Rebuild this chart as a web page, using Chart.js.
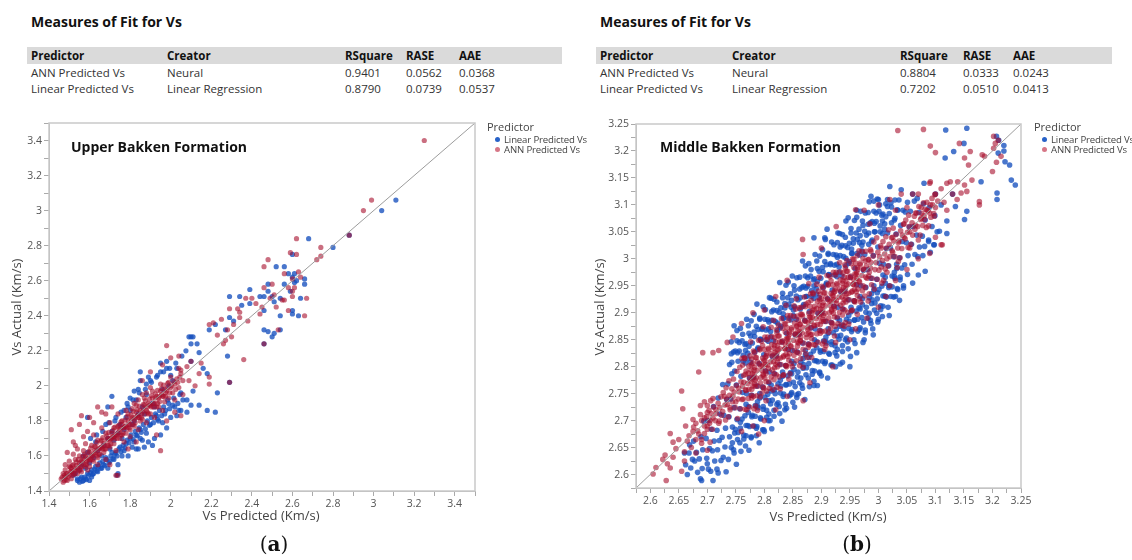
<!DOCTYPE html>
<html lang="en">
<head>
  <meta charset="UTF-8">
  <title>Measures of Fit for Vs</title>
  <script src="https://cdn.jsdelivr.net/npm/chart.js"></script>
  <style>
    html, body { margin: 0; padding: 0; background: #fff; overflow: hidden; }
    #page { position: relative; width: 1132px; height: 560px; font-family: "Open Sans", "Noto Sans", sans-serif; color: #333; }
    #page div, #page canvas { position: absolute; }
    .fit-title { font-weight: bold; font-size: 14px; color: #111; white-space: nowrap; }
    .band { background: #dadada; }
    .cell { font-size: 11.5px; line-height: 16px; white-space: nowrap; color: #333; }
    .cell.head { font-weight: bold; color: #111; }
    .plot-title { font-weight: bold; font-size: 14px; color: #111; white-space: nowrap; line-height: 20px; }
    .axis-title { font-size: 13px; color: #444; white-space: nowrap; text-align: center; line-height: 18px; }
    .legend { font-size: 9.6px; color: #444; white-space: nowrap; line-height: 12px; letter-spacing: -0.15px; }
    .dot { width: 5px; height: 5px; border-radius: 50%; }
    .panel-label { font-family: "DejaVu Serif", "Liberation Serif", serif; font-size: 20px; color: #111; width: 60px; text-align: center; line-height: 24px; }
  </style>
</head>
<body>
<div id="page">
  <canvas id="upper" width="500" height="430" style="left:0;top:110px"></canvas>
  <canvas id="middle" width="480" height="430" style="left:570px;top:110px"></canvas>
</div>

<script>
  // ---- fit tables ----
  const fitHeader = ['Predictor', 'Creator', 'RSquare', 'RASE', 'AAE'];
  const upperFit = [
    ['ANN Predicted Vs', 'Neural', '0.9401', '0.0562', '0.0368'],
    ['Linear Predicted Vs', 'Linear Regression', '0.8790', '0.0739', '0.0537']
  ];
  const middleFit = [
    ['ANN Predicted Vs', 'Neural', '0.8804', '0.0333', '0.0243'],
    ['Linear Predicted Vs', 'Linear Regression', '0.7202', '0.0510', '0.0413']
  ];
  const seriesNames = ['Linear Predicted Vs', 'ANN Predicted Vs'];

  // ---- Upper Bakken: [Vs Predicted, Vs Actual] ----
  const upperAnn = [
    [1.46,1.47],[1.47,1.45],[1.47,1.50],[1.48,1.48],[1.48,1.52],[1.49,1.46],[1.49,1.50],[1.50,1.54],[1.48,1.55],
    [1.50,1.49],[1.51,1.51],[1.51,1.47],[1.52,1.55],[1.52,1.50],[1.53,1.58],[1.50,1.57],[1.53,1.52],[1.52,1.61],[1.51,1.53],
    [1.54,1.53],[1.54,1.50],[1.55,1.56],[1.55,1.60],[1.56,1.54],[1.56,1.51],[1.57,1.58],[1.57,1.63],[1.54,1.64],[1.56,1.57],
    [1.58,1.55],[1.58,1.60],[1.59,1.58],[1.59,1.52],[1.60,1.62],[1.60,1.57],[1.61,1.66],[1.61,1.60],[1.58,1.67],[1.60,1.54],
    [1.62,1.61],[1.62,1.57],[1.63,1.65],[1.63,1.62],[1.64,1.59],[1.64,1.69],[1.65,1.64],[1.65,1.61],[1.62,1.72],[1.64,1.55],
    [1.66,1.65],[1.66,1.69],[1.67,1.62],[1.67,1.67],[1.68,1.73],[1.68,1.64],[1.69,1.70],[1.69,1.66],[1.66,1.76],[1.68,1.58],
    [1.70,1.69],[1.70,1.65],[1.71,1.73],[1.71,1.70],[1.72,1.76],[1.72,1.67],[1.73,1.72],[1.73,1.63],[1.70,1.79],[1.72,1.71],
    [1.74,1.73],[1.74,1.77],[1.75,1.70],[1.75,1.75],[1.76,1.80],[1.76,1.72],[1.77,1.76],[1.77,1.68],[1.74,1.84],[1.76,1.78],
    [1.78,1.77],[1.78,1.73],[1.79,1.80],[1.79,1.84],[1.80,1.78],[1.80,1.71],[1.81,1.82],[1.81,1.87],[1.78,1.86],[1.80,1.75],
    [1.82,1.81],[1.82,1.77],[1.83,1.85],[1.83,1.89],[1.84,1.82],[1.84,1.75],[1.85,1.86],[1.85,1.80],[1.82,1.90],[1.84,1.92],
    [1.86,1.85],[1.86,1.81],[1.87,1.89],[1.87,1.93],[1.88,1.86],[1.88,1.79],[1.89,1.90],[1.89,1.84],[1.86,1.95],[1.88,1.96],
    [1.90,1.89],[1.90,1.84],[1.91,1.93],[1.91,1.97],[1.92,1.90],[1.92,1.82],[1.93,1.94],[1.93,1.88],[1.90,1.99],
    [1.94,1.93],[1.94,1.88],[1.95,1.97],[1.95,2.01],[1.96,1.94],[1.96,1.86],[1.97,1.98],[1.97,1.91],
    [1.98,1.97],[1.99,2.02],[1.99,1.93],[2.00,1.99],[2.00,2.05],[2.01,1.96],[2.02,2.01],[2.02,1.92],
    [2.03,2.04],[2.04,1.99],[2.05,2.07],[2.06,2.03],[2.04,2.10],[2.06,1.95],
    [1.465,1.48],[1.475,1.46],[1.485,1.50],[1.495,1.48],[1.485,1.465],[1.475,1.49],
    [1.505,1.51],[1.515,1.49],[1.505,1.535],[1.525,1.52],[1.515,1.545],[1.525,1.495],
    [1.535,1.545],[1.545,1.515],[1.535,1.565],[1.555,1.54],[1.545,1.58],[1.555,1.52],
    [1.565,1.565],[1.575,1.54],[1.565,1.595],[1.585,1.57],[1.575,1.61],[1.585,1.55],
    [1.595,1.59],[1.605,1.58],[1.595,1.625],[1.615,1.60],[1.605,1.645],[1.615,1.58],
    [1.625,1.63],[1.635,1.60],[1.625,1.655],[1.645,1.64],[1.635,1.675],[1.645,1.61],
    [1.655,1.65],[1.665,1.64],[1.655,1.685],[1.675,1.66],[1.665,1.705],[1.675,1.64],
    [1.685,1.69],[1.695,1.66],[1.685,1.715],[1.705,1.70],[1.695,1.735],[1.705,1.67],
    [1.715,1.71],[1.725,1.70],[1.715,1.745],[1.735,1.72],[1.725,1.765],[1.735,1.70],
    [1.745,1.75],[1.755,1.72],[1.745,1.775],[1.765,1.76],[1.755,1.795],[1.765,1.73],
    [1.775,1.77],[1.785,1.76],[1.775,1.805],[1.795,1.78],[1.785,1.825],[1.795,1.76],
    [1.805,1.81],[1.815,1.78],[1.805,1.835],[1.825,1.82],[1.815,1.855],[1.825,1.79],
    [1.835,1.83],[1.845,1.82],[1.835,1.865],[1.855,1.84],[1.845,1.885],[1.855,1.82],
    [1.865,1.87],[1.875,1.84],[1.865,1.895],[1.885,1.88],[1.875,1.915],[1.885,1.85],
    [1.895,1.89],[1.905,1.88],[1.895,1.925],[1.915,1.90],[1.905,1.945],[1.915,1.88],
    [1.925,1.93],[1.935,1.90],[1.925,1.955],[1.945,1.94],[1.935,1.975],[1.945,1.91],
    [1.955,1.95],[1.965,1.94],[1.955,1.985],[1.975,1.96],[1.965,2.005],[1.975,1.94],
    [1.985,1.99],[1.995,1.96],[1.985,2.015],[2.005,2.00],[2.015,2.025],[2.025,1.98],[2.035,2.02],[2.045,2.05],
    [1.51,1.75],[1.56,1.83],[1.55,1.78],[1.59,1.74],[1.52,1.68],[1.62,1.79],[1.64,1.88],[1.66,1.85],[1.49,1.62],[1.53,1.66],
    [1.57,1.71],[1.60,1.82],[1.68,1.84],[1.71,1.88],[1.73,1.49],[1.74,1.49],[1.70,1.55],[1.79,1.64],[1.83,1.68],[1.95,1.63],
    [1.93,1.72],[1.98,1.80],[2.02,1.85],[2.05,1.83],[1.86,2.03],[1.90,2.08],[1.96,2.12],[2.00,2.16],[1.98,2.23],[2.04,2.17],
    [2.08,2.11],[2.10,2.14],[2.14,2.07],[2.12,2.00],[2.15,2.13],[2.19,2.01],[2.19,2.05],[2.29,2.02],[2.09,2.03],[2.05,2.09],
    [2.19,2.35],[2.21,2.36],[2.25,2.38],[2.29,2.44],[2.33,2.44],[2.34,2.42],[2.34,2.39],[2.28,2.32],[2.27,2.26],[2.30,2.28],
    [2.26,2.24],[2.36,2.15],[2.40,2.50],[2.37,2.50],[2.38,2.37],[2.48,2.72],[2.46,2.68],[2.46,2.56],[2.50,2.58],[2.51,2.52],
    [2.56,2.64],[2.60,2.61],[2.60,2.54],[2.61,2.56],[2.55,2.49],[2.52,2.45],[2.45,2.45],[2.58,2.43],[2.44,2.41],[2.53,2.32],
    [2.46,2.24],[2.56,2.49],[2.67,2.50],[2.66,2.40],[2.62,2.84],[2.59,2.76],[2.62,2.75],[2.60,2.51],[2.74,2.79],[2.72,2.72],
    [2.74,2.74],[2.88,2.86],[2.95,3.00],[2.99,3.06],[3.25,3.40],[2.23,2.29],[2.31,2.35],[2.42,2.47],[2.49,2.50],[2.64,2.62],
    [2.63,2.65],[2.58,2.56]
  ];
  const upperLinear = [
    [1.53,1.50],[1.54,1.47],[1.55,1.45],[1.56,1.48],[1.55,1.52],[1.52,1.49],[1.56,1.55],[1.54,1.46],[1.57,1.46],
    [1.58,1.47],[1.60,1.46],[1.61,1.48],[1.59,1.50],[1.58,1.53],[1.60,1.56],[1.61,1.52],[1.57,1.60],[1.59,1.62],[1.59,1.82],
    [1.62,1.50],[1.63,1.54],[1.64,1.51],[1.65,1.56],[1.62,1.59],[1.66,1.53],[1.64,1.63],[1.63,1.68],[1.66,1.60],
    [1.67,1.55],[1.68,1.59],[1.69,1.53],[1.70,1.57],[1.71,1.62],[1.67,1.66],[1.69,1.70],[1.70,1.64],[1.71,1.74],[1.68,1.78],[1.69,1.88],[1.71,1.94],
    [1.72,1.58],[1.73,1.62],[1.74,1.55],[1.75,1.65],[1.76,1.60],[1.72,1.69],[1.74,1.73],[1.75,1.78],[1.76,1.70],[1.73,1.82],[1.74,1.50],[1.735,1.49],
    [1.77,1.63],[1.78,1.67],[1.79,1.60],[1.80,1.70],[1.81,1.65],[1.77,1.75],[1.78,1.82],[1.79,1.88],[1.80,1.93],[1.81,1.78],[1.77,1.86],[1.80,1.86],
    [1.82,1.68],[1.83,1.72],[1.84,1.64],[1.85,1.75],[1.86,1.69],[1.82,1.80],[1.83,1.92],[1.84,1.98],[1.85,2.03],[1.86,1.88],[1.84,1.84],[1.82,1.97],[1.85,2.08],[1.85,1.70],
    [1.87,1.65],[1.88,1.73],[1.89,1.68],[1.90,1.78],[1.91,1.66],[1.87,1.84],[1.88,1.95],[1.89,2.05],[1.90,2.03],[1.91,1.90],[1.88,2.01],[1.83,1.64],
    [1.92,1.70],[1.93,1.83],[1.94,1.80],[1.95,1.72],[1.96,1.79],[1.92,1.88],[1.93,2.05],[1.95,2.13],[1.95,2.08],[1.96,1.98],[1.98,2.14],
    [1.97,1.84],[1.98,1.76],[1.99,1.90],[2.00,1.82],[2.01,1.89],[2.03,2.10],[1.98,2.10],[2.00,2.06],[2.01,2.03],[1.99,2.00],
    [2.02,1.88],[2.03,1.83],[2.04,1.86],[2.05,1.86],[2.06,1.92],[2.05,1.96],[2.08,1.85],
    [1.555,1.47],[1.565,1.455],[1.575,1.48],[1.585,1.465],[1.595,1.49],[1.605,1.505],[1.615,1.495],[1.625,1.525],[1.635,1.515],
    [1.645,1.54],[1.655,1.53],[1.665,1.57],[1.675,1.545],[1.685,1.58],[1.695,1.56],[1.705,1.60],[1.715,1.585],[1.725,1.61],
    [1.735,1.60],[1.745,1.64],[1.755,1.625],[1.765,1.66],[1.775,1.645],[1.785,1.69],[1.795,1.675],[1.805,1.72],[1.815,1.695],
    [1.825,1.74],[1.835,1.715],[1.845,1.76],[1.855,1.735],[1.865,1.78],[1.875,1.755],[1.885,1.80],[1.895,1.775],[1.905,1.82],
    [1.915,1.79],[1.925,1.84],[1.935,1.81],[1.945,1.86],[1.955,1.83],[1.965,1.88],[1.975,1.86],[1.985,1.92],[1.995,1.87],
    [2.015,1.93],[2.035,1.90],[2.045,1.95],
    [1.605,1.70],[1.635,1.72],[1.665,1.74],[1.695,1.79],[1.725,1.80],[1.755,1.85],[1.785,1.90],[1.815,1.92],[1.845,1.96],
    [1.875,1.98],[1.905,2.02],[1.935,2.06],[1.965,2.08],[1.995,2.10],[2.025,2.13],[2.055,2.17],[2.075,2.20],
    [2.08,1.92],[2.11,1.97],[2.10,1.89],[2.14,1.89],[2.18,1.86],[2.22,1.85],[2.23,1.96],[2.18,2.07],[2.16,2.10],[2.10,2.14],
    [2.09,2.28],[2.10,2.28],[2.13,2.24],[2.14,2.19],[2.11,2.28],[2.10,2.24],[2.29,2.02],[2.28,2.17],[2.19,2.32],[2.22,2.35],
    [2.29,2.39],[2.27,2.32],[2.31,2.37],[2.29,2.51],[2.34,2.51],[2.35,2.46],[2.39,2.55],[2.39,2.47],
    [2.44,2.51],[2.46,2.51],[2.48,2.58],[2.52,2.68],[2.56,2.68],[2.56,2.58],[2.48,2.54],[2.50,2.51],[2.54,2.50],[2.60,2.62],
    [2.61,2.64],[2.66,2.61],[2.66,2.58],[2.63,2.40],[2.60,2.43],[2.60,2.41],[2.46,2.32],[2.48,2.31],[2.50,2.28],[2.51,2.30],
    [2.54,2.32],[2.54,2.40],[2.51,2.48],[2.46,2.43],[2.59,2.54],[2.61,2.59],[2.46,2.24],[2.64,2.50],[2.68,2.84],[2.60,2.75],
    [2.80,2.79],[2.88,2.86],[3.04,3.00],[3.11,3.06],[2.58,2.64],[2.62,2.60]
  ];

  // ---- Middle Bakken: [Vs Predicted, Vs Actual] ----
  const middleAnn = [
    [2.605,2.601],[2.628,2.589],[2.622,2.628],[2.635,2.612],[2.655,2.606],[2.630,2.620],[2.640,2.632],[2.626,2.636],[2.645,2.648],
    [2.660,2.642],[2.665,2.662],[2.672,2.650],[2.655,2.755],[2.685,2.790],[2.692,2.826],[2.710,2.826],[2.668,2.672],[2.680,2.665],
    [2.676,2.688],[2.690,2.700],[2.683,2.681],[2.695,2.676],[2.700,2.690],[2.688,2.711],[2.675,2.702],[2.650,2.665],[2.662,2.690],
    [2.690,2.658],[2.700,2.645],[2.640,2.660],[2.610,2.613],[2.700,2.728],[2.710,2.741],[2.695,2.735],[2.660,2.625],[2.680,2.640],
    [2.705,2.660],[2.657,2.722],[2.688,2.728],[2.635,2.676],
    [2.685,2.675],[2.695,2.690],[2.705,2.700],[2.715,2.720],[2.725,2.710],[2.735,2.730],[2.745,2.745],[2.755,2.760],[2.690,2.665],
    [2.700,2.715],[2.720,2.695],[2.740,2.720],[2.750,2.735],[2.730,2.745],[2.710,2.705],[2.675,2.680],[2.680,2.695],[2.695,2.705],
    [2.700,2.684],[2.704,2.695],[2.699,2.707],[2.703,2.719],
    [2.709,2.684],[2.714,2.700],[2.707,2.713],[2.711,2.725],[2.706,2.737],
    [2.721,2.699],[2.716,2.713],[2.722,2.724],[2.719,2.732],[2.724,2.744],
    [2.732,2.701],[2.727,2.717],[2.731,2.729],[2.734,2.740],[2.728,2.752],[2.733,2.761],
    [2.737,2.707],[2.740,2.724],[2.744,2.735],[2.739,2.747],[2.743,2.759],[2.738,2.774],
    [2.753,2.704],[2.749,2.724],[2.754,2.740],[2.747,2.753],[2.751,2.765],[2.746,2.777],[2.752,2.791],
    [2.758,2.722],[2.761,2.739],[2.756,2.753],[2.762,2.764],[2.759,2.772],[2.764,2.784],[2.757,2.799],[2.761,2.815],
    [2.769,2.720],[2.772,2.741],[2.767,2.757],[2.771,2.769],[2.774,2.780],[2.768,2.792],[2.773,2.801],[2.766,2.815],
    [2.782,2.722],[2.777,2.747],[2.780,2.764],[2.784,2.775],[2.779,2.787],[2.783,2.799],[2.778,2.814],[2.781,2.829],[2.776,2.846],
    [2.788,2.719],[2.793,2.744],[2.789,2.764],[2.794,2.780],[2.787,2.793],[2.791,2.805],[2.786,2.817],[2.792,2.831],[2.790,2.849],
    [2.803,2.737],[2.798,2.762],[2.801,2.779],[2.796,2.793],[2.802,2.804],[2.799,2.812],[2.804,2.824],[2.797,2.839],[2.801,2.855],[2.798,2.874],
    [2.809,2.760],[2.812,2.781],[2.807,2.797],[2.811,2.809],[2.814,2.820],[2.808,2.832],[2.813,2.841],[2.806,2.855],[2.812,2.873],
    [2.822,2.762],[2.817,2.787],[2.820,2.804],[2.824,2.815],[2.819,2.827],[2.823,2.839],[2.818,2.854],[2.821,2.869],[2.816,2.886],
    [2.828,2.759],[2.833,2.784],[2.829,2.804],[2.834,2.820],[2.827,2.833],[2.831,2.845],[2.826,2.857],[2.832,2.871],[2.830,2.889],
    [2.843,2.777],[2.838,2.802],[2.841,2.819],[2.836,2.833],[2.842,2.844],[2.839,2.852],[2.844,2.864],[2.837,2.879],[2.841,2.895],[2.838,2.914],
    [2.849,2.800],[2.852,2.821],[2.847,2.837],[2.851,2.849],[2.854,2.860],[2.848,2.872],[2.853,2.881],[2.846,2.895],[2.852,2.913],
    [2.862,2.802],[2.857,2.827],[2.860,2.844],[2.864,2.855],[2.859,2.867],[2.863,2.879],[2.858,2.894],[2.861,2.909],[2.856,2.926],
    [2.868,2.799],[2.873,2.824],[2.869,2.844],[2.874,2.860],[2.867,2.873],[2.871,2.885],[2.866,2.897],[2.872,2.911],[2.870,2.929],
    [2.883,2.817],[2.878,2.842],[2.881,2.859],[2.876,2.873],[2.882,2.884],[2.879,2.892],[2.884,2.904],[2.877,2.919],[2.881,2.935],[2.878,2.954],
    [2.889,2.840],[2.892,2.861],[2.887,2.877],[2.891,2.889],[2.894,2.900],[2.888,2.912],[2.893,2.921],[2.886,2.935],[2.892,2.953],
    [2.902,2.842],[2.897,2.867],[2.900,2.884],[2.904,2.895],[2.899,2.907],[2.903,2.919],[2.898,2.934],[2.901,2.949],[2.896,2.966],
    [2.908,2.839],[2.913,2.864],[2.909,2.884],[2.914,2.900],[2.907,2.913],[2.911,2.925],[2.906,2.937],[2.912,2.951],[2.910,2.969],
    [2.923,2.857],[2.918,2.882],[2.921,2.899],[2.916,2.913],[2.922,2.924],[2.919,2.932],[2.924,2.944],[2.917,2.959],[2.921,2.975],
    [2.929,2.880],[2.932,2.901],[2.927,2.917],[2.931,2.929],[2.934,2.940],[2.928,2.952],[2.933,2.961],[2.926,2.975],[2.932,2.993],
    [2.942,2.882],[2.937,2.907],[2.940,2.924],[2.944,2.935],[2.939,2.947],[2.943,2.959],[2.938,2.974],[2.941,2.989],
    [2.948,2.879],[2.953,2.904],[2.949,2.924],[2.954,2.940],[2.947,2.953],[2.951,2.965],[2.946,2.977],[2.952,2.991],
    [2.958,2.922],[2.961,2.939],[2.956,2.953],[2.962,2.964],[2.959,2.972],[2.964,2.984],[2.957,2.999],[2.963,2.897],
    [2.969,2.920],[2.972,2.941],[2.967,2.957],[2.971,2.969],[2.974,2.980],[2.968,2.992],[2.973,3.001],[2.966,3.015],
    [2.977,2.947],[2.980,2.964],[2.984,2.975],[2.979,2.987],[2.983,2.999],[2.978,3.014],[2.982,2.922],
    [2.993,2.944],[2.989,2.964],[2.994,2.980],[2.987,2.993],[2.991,3.005],[2.986,3.017],[2.992,3.031],
    [2.998,2.962],[3.001,2.979],[2.996,2.993],[3.002,3.004],[2.999,3.012],[3.004,3.024],[2.997,3.039],
    [3.012,2.981],[3.007,2.997],[3.011,3.009],[3.014,3.020],[3.008,3.032],[3.013,3.041],[3.009,2.960],
    [3.017,2.987],[3.020,3.004],[3.024,3.015],[3.019,3.027],[3.023,3.039],[3.018,3.054],
    [3.033,2.984],[3.029,3.004],[3.034,3.020],[3.027,3.033],[3.031,3.045],[3.026,3.057],
    [3.038,3.002],[3.041,3.019],[3.036,3.033],[3.042,3.044],[3.039,3.052],[3.044,3.064],
    [3.052,3.021],[3.047,3.037],[3.051,3.049],[3.054,3.060],[3.048,3.072],[3.053,3.081],
    [3.057,3.027],[3.060,3.044],[3.064,3.055],[3.059,3.067],[3.063,3.079],
    [3.073,3.044],[3.069,3.060],[3.074,3.073],[3.067,3.085],[3.071,3.097],
    [3.078,3.062],[3.081,3.073],[3.076,3.084],[3.082,3.092],[3.079,3.104],[3.084,3.058],
    [3.092,3.077],[3.087,3.089],[3.091,3.100],[3.094,3.112],[3.088,3.061],
    [3.097,3.084],[3.100,3.095],[3.104,3.107],[3.099,3.119],
    [2.766,2.721],[2.763,2.740],[2.768,2.756],[2.764,2.771],[2.767,2.786],[2.762,2.803],[2.765,2.817],
    [2.774,2.725],[2.778,2.742],[2.773,2.758],[2.776,2.773],[2.772,2.788],[2.777,2.804],[2.775,2.820],
    [2.787,2.746],[2.784,2.764],[2.786,2.779],[2.782,2.794],[2.788,2.809],[2.783,2.826],[2.785,2.727],
    [2.796,2.751],[2.793,2.770],[2.798,2.786],[2.794,2.801],[2.797,2.816],[2.792,2.833],[2.795,2.847],
    [2.804,2.755],[2.808,2.772],[2.803,2.788],[2.806,2.803],[2.802,2.818],[2.807,2.834],[2.805,2.850],
    [2.817,2.776],[2.814,2.794],[2.816,2.809],[2.812,2.824],[2.818,2.839],[2.813,2.856],[2.815,2.757],
    [2.826,2.781],[2.823,2.800],[2.828,2.816],[2.824,2.831],[2.827,2.846],[2.822,2.863],[2.825,2.877],
    [2.834,2.785],[2.838,2.802],[2.833,2.818],[2.836,2.833],[2.832,2.848],[2.837,2.864],[2.835,2.880],
    [2.847,2.806],[2.844,2.824],[2.846,2.839],[2.842,2.854],[2.848,2.869],[2.843,2.886],[2.845,2.787],
    [2.856,2.811],[2.853,2.830],[2.858,2.846],[2.854,2.861],[2.857,2.876],[2.852,2.893],[2.855,2.907],
    [2.864,2.815],[2.868,2.832],[2.863,2.848],[2.866,2.863],[2.862,2.878],[2.867,2.894],[2.865,2.910],
    [2.877,2.836],[2.874,2.854],[2.876,2.869],[2.872,2.884],[2.878,2.899],[2.873,2.916],[2.875,2.817],
    [2.886,2.841],[2.883,2.860],[2.888,2.876],[2.884,2.891],[2.887,2.906],[2.882,2.923],[2.885,2.937],
    [2.894,2.845],[2.898,2.862],[2.893,2.878],[2.896,2.893],[2.892,2.908],[2.897,2.924],[2.895,2.940],
    [2.907,2.866],[2.904,2.884],[2.906,2.899],[2.902,2.914],[2.908,2.929],[2.903,2.946],[2.905,2.847],
    [2.916,2.871],[2.913,2.890],[2.918,2.906],[2.914,2.921],[2.917,2.936],[2.912,2.953],[2.915,2.967],
    [2.924,2.875],[2.928,2.892],[2.923,2.908],[2.926,2.923],[2.922,2.938],[2.927,2.954],[2.925,2.970],
    [2.937,2.896],[2.934,2.914],[2.936,2.929],[2.932,2.944],[2.938,2.959],[2.933,2.976],[2.935,2.877],
    [2.946,2.901],[2.943,2.920],[2.948,2.936],[2.944,2.951],[2.947,2.966],[2.942,2.983],[2.945,2.997],
    [2.954,2.905],[2.958,2.922],[2.953,2.938],[2.956,2.953],[2.952,2.968],[2.957,2.984],[2.955,3.000],
    [2.967,2.926],[2.964,2.944],[2.966,2.959],[2.962,2.974],[2.968,2.989],[2.963,3.006],
    [2.976,2.931],[2.973,2.950],[2.978,2.966],[2.974,2.981],[2.977,2.996],[2.972,3.013],
    [2.984,2.935],[2.988,2.952],[2.983,2.968],[2.986,2.983],[2.982,2.998],[2.987,3.014],
    [2.781,2.745],[2.778,2.758],[2.783,2.768],[2.779,2.777],[2.782,2.785],[2.777,2.794],[2.780,2.806],[2.784,2.817],
    [2.799,2.760],[2.803,2.772],[2.798,2.783],[2.802,2.792],[2.797,2.802],[2.801,2.811],[2.804,2.820],[2.800,2.832],
    [2.821,2.785],[2.818,2.798],[2.823,2.808],[2.819,2.817],[2.822,2.825],[2.817,2.834],[2.820,2.846],[2.824,2.857],
    [2.839,2.800],[2.843,2.812],[2.838,2.823],[2.842,2.832],[2.837,2.842],[2.841,2.851],[2.844,2.860],[2.840,2.872],
    [2.861,2.825],[2.858,2.838],[2.863,2.848],[2.859,2.857],[2.862,2.865],[2.857,2.874],[2.860,2.886],[2.864,2.897],
    [2.879,2.840],[2.883,2.852],[2.878,2.863],[2.882,2.872],[2.877,2.882],[2.881,2.891],[2.884,2.900],[2.880,2.912],
    [2.901,2.865],[2.898,2.878],[2.903,2.888],[2.899,2.897],[2.902,2.905],[2.897,2.914],[2.900,2.926],[2.904,2.937],
    [2.919,2.880],[2.923,2.892],[2.918,2.903],[2.922,2.912],[2.917,2.922],[2.921,2.931],[2.924,2.940],[2.920,2.952],
    [2.941,2.905],[2.938,2.918],[2.943,2.928],[2.939,2.937],[2.942,2.945],[2.937,2.954],[2.940,2.966],[2.944,2.977],
    [2.959,2.920],[2.963,2.932],[2.958,2.943],[2.962,2.952],[2.957,2.962],[2.961,2.971],[2.964,2.980],[2.960,2.992],
    [3.005,2.985],[3.015,3.000],[3.025,3.012],[3.035,3.030],[3.045,3.040],[3.055,3.050],[3.065,3.062],[3.075,3.075],[3.085,3.090],
    [3.095,3.100],[3.075,3.095],[3.085,3.105],[3.090,3.085],[3.080,3.080],[3.065,3.085],[3.045,3.065],[3.025,3.040],[3.005,3.020],
    [3.015,2.975],[3.035,2.995],[3.055,3.020],[3.070,3.035],
    [2.867,3.036],[2.868,3.008],[2.960,3.091],[2.926,3.060],[2.900,3.020],[2.840,2.960],[2.820,2.930],[2.800,2.905],[2.780,2.900],
    [2.760,2.880],[2.745,2.855],[2.735,2.845],[2.720,2.830],[2.975,3.090],[3.000,3.100],[3.020,3.110],[3.040,3.120],[3.060,3.120],
    [3.030,3.090],[2.985,3.065],[3.050,3.095],[3.070,3.120],[3.090,3.140],
    [2.868,2.737],[2.906,2.832],[2.925,2.845],[2.940,2.875],[2.960,2.870],[2.980,2.890],[3.006,2.955],[3.013,2.930],[3.030,2.960],
    [3.050,2.980],[3.070,3.000],[3.090,3.010],[3.110,3.026],[3.100,3.040],[2.840,2.745],[2.820,2.720],[2.800,2.700],[2.780,2.690],
    [2.790,2.675],[2.760,2.680],[2.880,2.770],[2.920,2.800],[2.950,2.850],[3.000,2.910],[3.020,2.950],
    [3.034,3.238],[3.079,3.240],[3.091,3.209],[3.100,3.197],[3.142,3.214],[3.161,3.199],[3.151,3.187],[3.158,3.174],[3.202,3.227],
    [3.205,3.214],[3.202,3.205],[3.200,3.162],[3.207,3.179],[3.182,3.193],[3.186,3.190],[3.139,3.143],[3.151,3.137],[3.145,3.122],
    [3.177,3.100],[3.177,3.106],[3.155,3.125],[3.138,3.110],[3.120,3.090],[3.098,3.079],[3.112,3.026],[3.091,3.143],[3.126,3.143],
    [3.164,3.146],[3.110,3.130],[3.120,3.140],[3.130,3.120],[3.100,3.120],[3.115,3.105],[3.210,3.220],[3.215,3.190]
  ];
  const middleLinear = [
    [2.665,2.600],[2.662,2.618],[2.668,2.640],[2.671,2.612],[2.674,2.628],[2.669,2.655],
    [2.683,2.604],[2.678,2.625],[2.681,2.641],[2.676,2.662],
    [2.688,2.592],[2.691,2.611],[2.686,2.629],[2.692,2.646],[2.689,2.670],[2.694,2.699],
    [2.702,2.610],[2.699,2.630],[2.704,2.648],[2.698,2.667],[2.701,2.700],
    [2.706,2.606],[2.713,2.625],[2.709,2.644],[2.712,2.662],[2.707,2.684],[2.711,2.726],
    [2.719,2.603],[2.724,2.626],[2.718,2.646],[2.721,2.663],[2.717,2.682],[2.722,2.712],[2.719,2.742],
    [2.733,2.605],[2.728,2.632],[2.731,2.651],[2.726,2.669],[2.732,2.686],[2.729,2.710],[2.734,2.739],[2.727,2.767],
    [2.737,2.628],[2.742,2.650],[2.739,2.670],[2.744,2.688],[2.738,2.707],[2.741,2.740],[2.736,2.768],[2.743,2.787],[2.739,2.804],[2.742,2.824],
    [2.751,2.619],[2.746,2.646],[2.753,2.665],[2.749,2.684],[2.752,2.702],[2.747,2.724],[2.751,2.766],[2.748,2.792],[2.754,2.810],[2.749,2.829],[2.752,2.848],[2.747,2.876],
    [2.759,2.643],[2.764,2.666],[2.758,2.686],[2.761,2.703],[2.757,2.722],[2.762,2.752],[2.759,2.782],[2.763,2.810],[2.756,2.829],[2.761,2.848],[2.758,2.871],
    [2.773,2.645],[2.768,2.672],[2.771,2.691],[2.766,2.709],[2.772,2.726],[2.769,2.750],[2.774,2.779],[2.767,2.807],[2.771,2.825],[2.768,2.843],[2.773,2.862],[2.769,2.888],
    [2.777,2.668],[2.782,2.690],[2.779,2.710],[2.784,2.728],[2.778,2.747],[2.781,2.780],[2.776,2.808],[2.783,2.827],[2.779,2.844],[2.782,2.864],[2.777,2.885],
    [2.791,2.659],[2.786,2.686],[2.793,2.705],[2.789,2.724],[2.792,2.742],[2.787,2.764],[2.791,2.806],[2.788,2.832],[2.794,2.850],[2.789,2.869],[2.792,2.888],[2.787,2.916],
    [2.799,2.683],[2.804,2.706],[2.798,2.726],[2.801,2.743],[2.797,2.762],[2.802,2.792],[2.799,2.822],[2.803,2.850],[2.796,2.869],[2.801,2.888],[2.798,2.911],
    [2.813,2.685],[2.808,2.712],[2.811,2.731],[2.806,2.749],[2.812,2.766],[2.809,2.790],[2.814,2.819],[2.807,2.847],[2.811,2.865],[2.808,2.883],[2.813,2.902],[2.809,2.928],
    [2.817,2.708],[2.822,2.730],[2.819,2.750],[2.824,2.768],[2.818,2.787],[2.821,2.820],[2.816,2.848],[2.823,2.867],[2.819,2.884],[2.822,2.904],[2.817,2.925],
    [2.831,2.699],[2.826,2.726],[2.833,2.745],[2.829,2.764],[2.832,2.782],[2.827,2.804],[2.831,2.846],[2.828,2.872],[2.834,2.890],[2.829,2.909],[2.832,2.928],[2.827,2.956],
    [2.839,2.723],[2.844,2.746],[2.838,2.766],[2.841,2.783],[2.837,2.802],[2.842,2.832],[2.839,2.862],[2.843,2.890],[2.836,2.909],[2.841,2.928],[2.838,2.951],
    [2.853,2.725],[2.848,2.752],[2.851,2.771],[2.846,2.789],[2.852,2.806],[2.849,2.830],[2.854,2.859],[2.847,2.887],[2.851,2.905],[2.848,2.923],[2.853,2.942],[2.849,2.968],
    [2.857,2.748],[2.862,2.770],[2.859,2.790],[2.864,2.808],[2.858,2.827],[2.861,2.860],[2.856,2.888],[2.863,2.907],[2.859,2.924],[2.862,2.944],[2.857,2.965],
    [2.871,2.739],[2.866,2.766],[2.873,2.785],[2.869,2.804],[2.872,2.822],[2.867,2.844],[2.871,2.886],[2.868,2.912],[2.874,2.930],[2.869,2.949],[2.872,2.968],[2.867,2.996],
    [2.879,2.763],[2.884,2.786],[2.878,2.806],[2.881,2.823],[2.877,2.842],[2.882,2.872],[2.879,2.902],[2.883,2.930],[2.876,2.949],[2.881,2.968],[2.878,2.991],
    [2.893,2.765],[2.888,2.792],[2.891,2.811],[2.886,2.829],[2.892,2.846],[2.889,2.870],[2.894,2.899],[2.887,2.927],[2.891,2.945],[2.888,2.963],[2.893,2.982],[2.889,3.008],
    [2.897,2.788],[2.902,2.810],[2.899,2.830],[2.904,2.848],[2.898,2.867],[2.901,2.900],[2.896,2.928],[2.903,2.947],[2.899,2.964],[2.902,2.984],[2.897,3.005],
    [2.911,2.779],[2.906,2.806],[2.913,2.825],[2.909,2.844],[2.912,2.862],[2.907,2.884],[2.911,2.926],[2.908,2.952],[2.914,2.970],[2.909,2.989],[2.912,3.008],[2.907,3.036],
    [2.919,2.803],[2.924,2.826],[2.918,2.846],[2.921,2.863],[2.917,2.882],[2.922,2.912],[2.919,2.942],[2.923,2.970],[2.916,2.989],[2.921,3.008],[2.918,3.031],
    [2.933,2.805],[2.928,2.832],[2.931,2.851],[2.926,2.869],[2.932,2.886],[2.929,2.910],[2.934,2.939],[2.927,2.967],[2.931,2.985],[2.928,3.003],[2.933,3.022],[2.929,3.048],
    [2.937,2.828],[2.942,2.850],[2.939,2.870],[2.944,2.888],[2.938,2.907],[2.941,2.940],[2.936,2.968],[2.943,2.987],[2.939,3.004],[2.942,3.024],[2.937,3.045],
    [2.951,2.819],[2.946,2.846],[2.953,2.865],[2.949,2.884],[2.952,2.902],[2.947,2.924],[2.951,2.966],[2.948,2.992],[2.954,3.010],[2.949,3.029],[2.952,3.048],[2.947,3.076],
    [2.959,2.843],[2.964,2.866],[2.958,2.886],[2.961,2.903],[2.957,2.922],[2.962,2.952],[2.959,2.982],[2.963,3.010],[2.956,3.029],[2.961,3.048],[2.958,3.071],
    [2.973,2.845],[2.968,2.872],[2.971,2.891],[2.966,2.909],[2.972,2.926],[2.969,2.950],[2.974,2.979],[2.967,3.007],[2.971,3.025],[2.968,3.043],[2.973,3.062],[2.969,3.088],
    [2.977,2.868],[2.982,2.890],[2.979,2.910],[2.984,2.928],[2.978,2.947],[2.981,2.980],[2.976,3.008],[2.983,3.027],[2.979,3.044],[2.982,3.064],[2.977,3.085],
    [2.991,2.859],[2.986,2.886],[2.993,2.905],[2.989,2.924],[2.992,2.942],[2.987,2.964],[2.991,3.006],[2.988,3.032],[2.994,3.050],[2.989,3.069],[2.992,3.088],[2.987,3.116],
    [2.999,2.883],[3.004,2.906],[2.998,2.926],[3.001,2.943],[2.997,2.962],[3.002,2.992],[2.999,3.022],[3.003,3.050],[2.996,3.069],[3.001,3.088],[2.998,3.111],
    [3.008,2.912],[3.011,2.931],[3.006,2.949],[3.012,2.966],[3.009,2.990],[3.014,3.019],[3.007,3.047],[3.011,3.065],[3.008,3.083],[3.013,3.102],
    [3.022,2.930],[3.019,2.950],[3.024,2.968],[3.018,2.987],[3.021,3.020],[3.016,3.048],[3.023,3.067],[3.019,3.084],[3.022,3.104],
    [3.033,2.945],[3.029,2.964],[3.032,2.982],[3.027,3.004],[3.031,3.046],[3.028,3.072],[3.034,3.090],[3.029,3.109],
    [3.044,2.946],[3.038,2.966],[3.041,2.983],[3.037,3.002],[3.042,3.032],[3.039,3.062],[3.043,3.090],[3.036,3.109],
    [3.051,2.971],[3.046,2.989],[3.052,3.006],[3.049,3.030],[3.054,3.059],[3.047,3.087],[3.051,3.105],
    [3.059,2.990],[3.064,3.008],[3.058,3.027],[3.061,3.060],[3.056,3.088],[3.063,3.107],
    [3.069,3.004],[3.072,3.022],[3.067,3.044],[3.071,3.086],[3.068,3.112],
    [3.078,3.006],[3.081,3.023],[3.077,3.042],[3.082,3.072],[3.079,3.102],
    [3.091,3.012],[3.088,3.035],[3.094,3.060],[3.089,3.095],[3.098,3.026],[3.103,3.050],[3.099,3.080],
    [2.747,2.640],[2.744,2.659],[2.748,2.677],[2.743,2.808],[2.746,2.827],[2.742,2.846],
    [2.757,2.659],[2.754,2.678],[2.758,2.697],[2.753,2.826],[2.756,2.845],[2.752,2.867],
    [2.767,2.653],[2.764,2.673],[2.768,2.691],[2.763,2.821],[2.766,2.841],[2.762,2.860],
    [2.777,2.670],[2.774,2.689],[2.778,2.707],[2.773,2.838],[2.776,2.857],[2.772,2.876],
    [2.787,2.689],[2.784,2.708],[2.788,2.727],[2.783,2.856],[2.786,2.875],[2.782,2.897],
    [2.797,2.683],[2.794,2.703],[2.798,2.721],[2.793,2.851],[2.796,2.871],[2.792,2.890],
    [2.807,2.700],[2.804,2.719],[2.808,2.737],[2.803,2.868],[2.806,2.887],[2.802,2.906],
    [2.817,2.719],[2.814,2.738],[2.818,2.757],[2.813,2.886],[2.816,2.905],[2.812,2.927],
    [2.827,2.713],[2.824,2.733],[2.828,2.751],[2.823,2.881],[2.826,2.901],[2.822,2.920],
    [2.837,2.730],[2.834,2.749],[2.838,2.767],[2.833,2.898],[2.836,2.917],[2.832,2.936],
    [2.847,2.749],[2.844,2.768],[2.848,2.787],[2.843,2.916],[2.846,2.935],[2.842,2.957],
    [2.857,2.743],[2.854,2.763],[2.858,2.781],[2.853,2.911],[2.856,2.931],[2.852,2.950],
    [2.867,2.760],[2.864,2.779],[2.868,2.797],[2.863,2.928],[2.866,2.947],[2.862,2.966],
    [2.877,2.779],[2.874,2.798],[2.878,2.817],[2.873,2.946],[2.876,2.965],[2.872,2.987],
    [2.887,2.773],[2.884,2.793],[2.888,2.811],[2.883,2.941],[2.886,2.961],[2.882,2.980],
    [2.897,2.790],[2.894,2.809],[2.898,2.827],[2.893,2.958],[2.896,2.977],[2.892,2.996],
    [2.907,2.809],[2.904,2.828],[2.908,2.847],[2.903,2.976],[2.906,2.995],[2.902,3.017],
    [2.917,2.803],[2.914,2.823],[2.918,2.841],[2.913,2.971],[2.916,2.991],[2.912,3.010],
    [2.927,2.820],[2.924,2.839],[2.928,2.857],[2.923,2.988],[2.926,3.007],[2.922,3.026],
    [2.937,2.839],[2.934,2.858],[2.938,2.877],[2.933,3.006],[2.936,3.025],[2.932,3.047],
    [2.947,2.833],[2.944,2.853],[2.948,2.871],[2.943,3.001],[2.946,3.021],[2.942,3.040],
    [2.957,2.850],[2.954,2.869],[2.958,2.887],[2.953,3.018],[2.956,3.037],[2.952,3.056],
    [2.967,2.869],[2.964,2.888],[2.968,2.907],[2.963,3.036],[2.966,3.055],[2.962,3.077],
    [2.977,2.863],[2.974,2.883],[2.978,2.901],[2.973,3.031],[2.976,3.051],[2.972,3.070],
    [2.987,2.880],[2.984,2.899],[2.988,2.917],[2.983,3.048],[2.986,3.067],[2.982,3.086],
    [2.997,2.899],[2.994,2.918],[2.998,2.937],[2.993,3.066],[2.996,3.085],[2.992,3.107],
    [3.007,2.893],[3.004,2.913],[3.008,2.931],[3.003,3.061],[3.006,3.081],[3.002,3.100],
    [3.017,2.910],[3.014,2.929],[3.018,2.947],[3.013,3.078],[3.016,3.097],
    [3.027,2.929],[3.024,2.948],[3.028,2.967],[3.023,3.096],
    [3.037,2.923],[3.034,2.943],[3.038,2.961],[3.033,3.091],
    [2.772,2.715],[2.768,2.730],[2.771,2.815],[2.767,2.830],[2.788,2.735],[2.792,2.750],[2.789,2.835],[2.793,2.850],
    [2.812,2.755],[2.808,2.770],[2.811,2.855],[2.807,2.870],[2.828,2.775],[2.832,2.790],[2.829,2.875],[2.833,2.890],
    [2.852,2.795],[2.848,2.810],[2.851,2.895],[2.847,2.910],[2.868,2.815],[2.872,2.830],[2.869,2.915],[2.873,2.930],
    [2.892,2.835],[2.888,2.850],[2.891,2.935],[2.887,2.950],[2.908,2.855],[2.912,2.870],[2.909,2.955],[2.913,2.970],
    [2.932,2.875],[2.928,2.890],[2.931,2.975],[2.927,2.990],[2.948,2.895],[2.952,2.910],[2.949,2.995],[2.953,3.010],
    [2.972,2.915],[2.968,2.930],[2.971,3.015],[2.967,3.030],[2.988,2.935],[2.992,2.950],[2.989,3.035],[2.993,3.050],
    [3.012,2.955],[3.008,2.970],[3.011,3.055],[3.007,3.070],[3.028,2.975],[3.032,2.990],[3.029,3.075],
    [3.155,3.242],[3.118,3.239],[3.150,3.214],[3.132,3.199],[3.117,3.187],[3.207,3.227],[3.211,3.220],[3.220,3.210],[3.220,3.200],
    [3.210,3.196],[3.222,3.180],[3.230,3.174],[3.233,3.146],[3.240,3.137],[3.208,3.122],[3.208,3.110],[3.180,3.143],[3.155,3.088],
    [3.151,3.073],[3.135,3.097],[3.120,3.070],[3.120,3.047],[3.107,3.051],[3.097,3.026],[3.088,3.032],[3.082,2.977],[3.060,2.955],
    [3.044,2.950],[3.019,2.895],[3.000,2.888],[3.016,3.110],[3.000,3.110],[2.984,3.106],[2.962,3.090],[2.943,3.070],[2.910,3.055],
    [2.928,3.030],[2.887,3.039],[2.906,3.039],[3.020,3.134],[3.040,3.128],[3.060,3.120],[3.080,3.140],[3.100,3.120],[3.110,3.100],
    [3.130,3.120],[2.690,2.589],[2.710,2.589],[2.717,2.610],[2.660,2.640],[2.700,2.620],
    [2.975,2.850],[2.962,2.826],[2.937,2.808],[2.925,2.800],[2.900,2.783],[2.887,2.765],[2.860,2.750],[2.850,2.734],[2.836,2.720],
    [2.810,2.700],[2.800,2.680],[2.786,2.672],[3.030,2.930],[3.070,2.970],[2.950,2.800],[2.990,2.870]
  ];

  // ---- axis ranges ----
  const upperRange = [1.4, 3.5];
  const upperStep = 0.1;
  const middleRange = [2.575, 3.25];
  const middleStep = 0.025;

  // ---------------- page text ----------------
  const page = document.getElementById('page');
  function put(cls, html, style) {
    const d = document.createElement('div');
    d.className = cls;
    d.innerHTML = html;
    Object.assign(d.style, style);
    page.appendChild(d);
    return d;
  }

  function fitTable(left, cols, bandRight, rows) {
    put('fit-title', 'Measures of Fit for Vs', { left: left + 'px', top: '12px' });
    put('band', '', { left: (left - 4) + 'px', top: '47px', width: (bandRight - left + 4) + 'px', height: '17px' });
    fitHeader.forEach((h, i) => put('cell head', h, { left: (left + cols[i]) + 'px', top: '48px' }));
    rows.forEach((r, j) => r.forEach((v, i) =>
      put('cell', v, { left: (left + cols[i]) + 'px', top: (64.5 + j * 16.6) + 'px' })));
  }
  fitTable(31, [0, 136, 314, 375, 428], 562, upperFit);
  fitTable(600, [0, 132, 300, 363, 413], 1112, middleFit);

  function legend(x) {
    put('legend', 'Predictor', { left: x + 'px', top: '121px', fontSize: '11px', letterSpacing: '0' });
    put('dot', '', { left: (x + 8) + 'px', top: '137px', background: 'rgb(40,98,200)' });
    put('legend', seriesNames[0], { left: (x + 17) + 'px', top: '133.5px' });
    put('dot', '', { left: (x + 8) + 'px', top: '147px', background: 'rgb(214,118,134)' });
    put('legend', seriesNames[1], { left: (x + 17) + 'px', top: '143.5px' });
  }
  legend(487);
  legend(1034);

  put('plot-title', 'Upper Bakken Formation', { left: '71px', top: '137px' });
  put('plot-title', 'Middle Bakken Formation', { left: '660px', top: '137px' });

  put('axis-title', 'Vs Predicted (Km/s)', { left: '161px', top: '506px', width: '200px' });
  put('axis-title', 'Vs Predicted (Km/s)', { left: '728px', top: '507px', width: '200px' });
  put('axis-title', 'Vs Actual (Km/s)', { left: '-84px', top: '298px', width: '200px', transform: 'rotate(-90deg)' });
  put('axis-title', 'Vs Actual (Km/s)', { left: '499px', top: '298px', width: '200px', transform: 'rotate(-90deg)' });

  put('panel-label', '(<b>a</b>)', { left: '244px', top: '532px' });
  put('panel-label', '(<b>b</b>)', { left: '827px', top: '532px' });

  // ---------------- charts ----------------
  const frame = {
    id: 'frame',
    afterDatasetsDraw(chart) {
      const { ctx, chartArea: a } = chart;
      ctx.save();
      ctx.strokeStyle = '#c9c9c9';
      ctx.lineWidth = 1.5;
      ctx.strokeRect(a.left, a.top, a.right - a.left, a.bottom - a.top);
      ctx.restore();
    }
  };

  function axis(range, step, every, fit, isX) {
    return {
      type: 'linear',
      min: range[0],
      max: range[1],
      ticks: {
        stepSize: step,
        autoSkip: false,
        maxRotation: 0,
        minRotation: 0,
        padding: 2,
        color: '#555',
        font: { family: 'Open Sans', size: 10.5 },
        callback: v => {
          const k = Math.round(v * 1000);
          return k % every === 0 ? String(Math.round(v * 100) / 100) : '';
        }
      },
      grid: { drawOnChartArea: false, tickLength: 5, tickColor: '#aaa' },
      border: { color: '#b5b5b5', width: 1 },
      afterFit: s => { if (isX) s.height = fit; else s.width = fit; }
    };
  }

  function scatterPanel(id, ann, lin, range, step, every, box) {
    const toXY = pts => pts.map(p => ({ x: p[0], y: p[1] }));
    return new Chart(document.getElementById(id), {
      type: 'scatter',
      data: {
        datasets: [
          {
            type: 'line',
            data: [{ x: range[0], y: range[0] }, { x: range[1], y: range[1] }],
            borderColor: '#9c9c9c',
            borderWidth: 1,
            pointRadius: 0,
            order: -1
          },
          {
            label: seriesNames[1],
            data: toXY(ann),
            backgroundColor: 'rgba(166,14,44,0.6)',
            borderWidth: 0,
            pointRadius: box.r,
            order: 0
          },
          {
            label: seriesNames[0],
            data: toXY(lin),
            backgroundColor: 'rgba(22,80,190,0.78)',
            borderWidth: 0,
            pointRadius: box.r,
            order: 1
          }
        ]
      },
      options: {
        responsive: false,
        animation: false,
        events: [],
        layout: { padding: { left: 0, top: box.top, right: box.right, bottom: 0 } },
        plugins: { legend: { display: false }, tooltip: { enabled: false } },
        scales: {
          x: axis(range, step, every, box.xh, true),
          y: axis(range, step, every, box.yw, false)
        }
      },
      plugins: [frame]
    });
  }

  scatterPanel('upper', upperAnn, upperLinear, upperRange, upperStep, 200,
    { top: 13, right: 25, xh: 49, yw: 49, r: 2.6 });
  scatterPanel('middle', middleAnn, middleLinear, middleRange, middleStep, 50,
    { top: 14, right: 29, xh: 52, yw: 66, r: 2.8 });
</script>
</body>
</html>
